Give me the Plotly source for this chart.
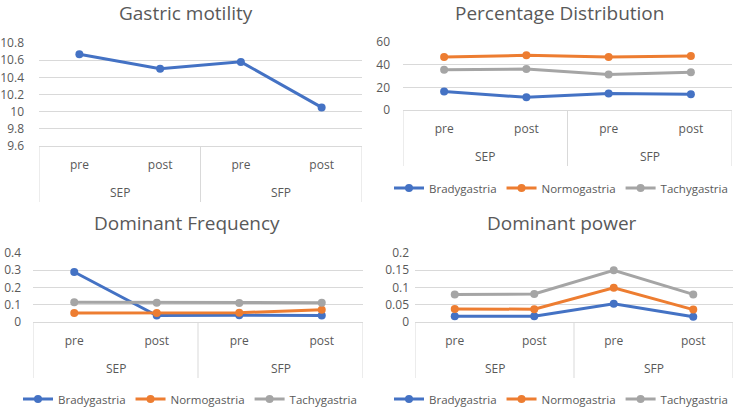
import plotly.graph_objects as go

# ---- data ----
groups = ["SEP", "SEP", "SFP", "SFP"]
phases = ["pre", "post", "pre", "post"]
series_names = ["Bradygastria", "Normogastria", "Tachygastria"]

gastric_motility = [10.67, 10.50, 10.58, 10.05]

pct_brady = [16.3, 11.2, 14.5, 13.9]
pct_normo = [46.7, 48.2, 46.7, 47.6]
pct_tachy = [35.5, 36.1, 31.3, 33.4]

freq_brady = [0.29, 0.037, 0.039, 0.037]
freq_normo = [0.052, 0.052, 0.054, 0.071]
freq_tachy = [0.114, 0.112, 0.110, 0.112]

power_brady = [0.017, 0.017, 0.053, 0.015]
power_normo = [0.038, 0.037, 0.099, 0.036]
power_tachy = [0.080, 0.081, 0.150, 0.080]

titles = ["Gastric motility", "Percentage Distribution", "Dominant Frequency", "Dominant power"]

# ---- styling ----
BLUE, ORANGE, GRAY = "#4472C4", "#ED7D31", "#A5A5A5"
colors = [BLUE, ORANGE, GRAY]
TXT = "#595959"
GRID = "#D9D9D9"
FONT = "Open Sans"
W, H = 740, 408

idx = list(range(len(phases)))

fig = go.Figure()


def add(n, name, y, color, legend=None, show=False):
    fig.add_trace(go.Scatter(
        x=idx, y=y, xaxis=f"x{n}" if n > 1 else "x", yaxis=f"y{n}" if n > 1 else "y",
        mode="lines+markers", name=name,
        line=dict(color=color, width=3), marker=dict(size=8, color=color),
        legend=legend, showlegend=show))


add(1, "Gastric motility", gastric_motility, BLUE)
for nm, vals, c in zip(series_names, [pct_brady, pct_normo, pct_tachy], colors):
    add(2, nm, vals, c, "legend", True)
for nm, vals, c in zip(series_names, [freq_brady, freq_normo, freq_tachy], colors):
    add(3, nm, vals, c, "legend2", True)
for nm, vals, c in zip(series_names, [power_brady, power_normo, power_tachy], colors):
    add(4, nm, vals, c, "legend3", True)

# pixel boxes: (left, right, top, bottom)
boxes = {
    1: (39, 362, 43, 146),
    2: (403, 732, 42, 110),
    3: (33, 363, 253, 322),
    4: (415, 733, 253, 322),
}
yranges = {1: ([9.6, 10.8], 0.2), 2: ([0, 60], 20), 3: ([0, 0.4], 0.1), 4: ([0, 0.2], 0.05)}
standoff = {1: 14, 2: 12, 3: 11, 4: 5}

# group spans from the category arrays
spans = []
start = 0
for i in range(1, len(groups) + 1):
    if i == len(groups) or groups[i] != groups[start]:
        spans.append((groups[start], start, i - 1))
        start = i
bounds = [spans[0][1] - 0.5] + [s[2] + 0.5 for s in spans]

layout = {}
shapes = []
annotations = []
for n, (l, r, t, b) in boxes.items():
    sfx = "" if n == 1 else str(n)
    layout[f"xaxis{sfx}"] = dict(
        domain=[l / W, r / W], anchor=f"y{sfx}",
        range=[-0.5, len(phases) - 0.5], tickmode="array", tickvals=idx, ticktext=phases,
        showline=True, linecolor=GRID, linewidth=1,
        showgrid=False, zeroline=False, ticks="", automargin=False, ticklabelstandoff=8,
        tickfont=dict(family=FONT, size=12, color=TXT), fixedrange=True)
    rng, dt = yranges[n]
    layout[f"yaxis{sfx}"] = dict(
        domain=[1 - b / H, 1 - t / H], anchor=f"x{sfx}", range=rng, dtick=dt,
        tick0=rng[0], showgrid=True, gridcolor=GRID, gridwidth=1, zeroline=False,
        showline=False, ticks="", ticklabelstandoff=standoff[n], automargin=False,
        tickfont=dict(family=FONT, size=12, color=TXT), fixedrange=True)
    xr = "x" + sfx
    for bx in bounds:
        shapes.append(dict(type="line", xref=xr, yref="paper", x0=bx, x1=bx,
                           y0=1 - b / H, y1=1 - (b + 56) / H,
                           line=dict(color=GRID, width=1)))
    for name, i0, i1 in spans:
        annotations.append(dict(text=name, x=(i0 + i1) / 2, xref=xr, y=1 - (b + 46.5) / H,
                                yref="paper", xanchor="center", yanchor="middle",
                                showarrow=False, font=dict(family=FONT, size=12, color=TXT)))

title_pos = [(186, 13), (559, 13), (187, 223), (562, 223)]
for tt, (px, py) in zip(titles, title_pos):
    annotations.append(dict(text=tt, x=px / W, y=1 - py / H, xref="paper", yref="paper",
                            xanchor="center", yanchor="middle", showarrow=False,
                            font=dict(family=FONT, size=19, color=TXT)))

leg_common = dict(orientation="h", xanchor="center", yanchor="middle",
                  font=dict(family=FONT, size=11.5, color=TXT),
                  bgcolor="rgba(0,0,0,0)", itemwidth=30, tracegroupgap=0)

fig.update_layout(
    **layout,
    shapes=shapes,
    annotations=annotations,
    width=W, height=H,
    margin=dict(l=0, r=0, t=0, b=0, autoexpand=False),
    paper_bgcolor="white", plot_bgcolor="white",
    font=dict(family=FONT, color=TXT),
    legend=dict(x=561 / W, y=1 - 188 / H, **leg_common),
    legend2=dict(x=190 / W, y=1 - 399 / H, **leg_common),
    legend3=dict(x=561 / W, y=1 - 399 / H, **leg_common),
)

fig.write_html("out.html", config={"displayModeBar": False},
               post_script="document.body.style.margin='0';")
